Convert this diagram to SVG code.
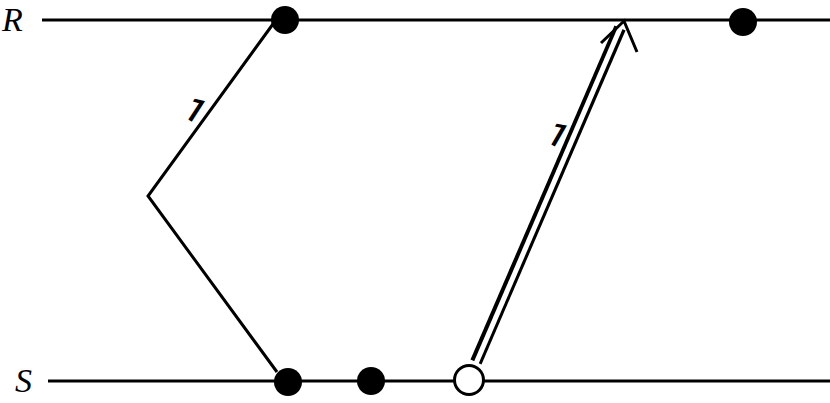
<svg xmlns="http://www.w3.org/2000/svg" width="830" height="403" viewBox="0 0 830 403">
<style>
.ln{stroke:#000;stroke-width:3;fill:none}
.dot{fill:#000}
.lbl{font-family:"Liberation Serif",serif;font-style:italic;font-size:34px;fill:#000}
.num{font-family:Roboto,"Liberation Sans",sans-serif;font-weight:500;font-size:34px;fill:#000}
</style>
<rect width="830" height="403" fill="#fff"/>
<g id="R">
<line class="ln" x1="42" y1="20" x2="830" y2="20"/>
<text class="lbl" x="2" y="31">R</text>
</g>
<g id="S">
<line class="ln" x1="48" y1="381" x2="830" y2="381"/>
<text class="lbl" x="15" y="392">S</text>
</g>
<g id="connectors">
<polyline class="ln" points="273,24 148,196 277,372"/>
<line x1="476" y1="362" x2="620" y2="28" stroke="#000" stroke-width="12"/>
<line x1="474" y1="368" x2="622" y2="24" stroke="#fff" stroke-width="5"/>
<polyline class="ln" points="601,43 624,21 637,52"/>
<text class="num" transform="translate(189,120) rotate(33)" text-anchor="middle">1</text>
<text class="num" transform="translate(552,145) rotate(30)" text-anchor="middle">1</text>
</g>
<g id="n1"><circle class="dot" cx="285" cy="20" r="14"/></g>
<g id="n2"><circle class="dot" cx="743" cy="22" r="14"/></g>
<g id="n3"><circle class="dot" cx="288" cy="382" r="14"/></g>
<g id="n4"><circle class="dot" cx="371" cy="381" r="14"/></g>
<g id="n5"><circle cx="469" cy="380" r="14.5" fill="#fff" stroke="#000" stroke-width="3"/></g>
</svg>
